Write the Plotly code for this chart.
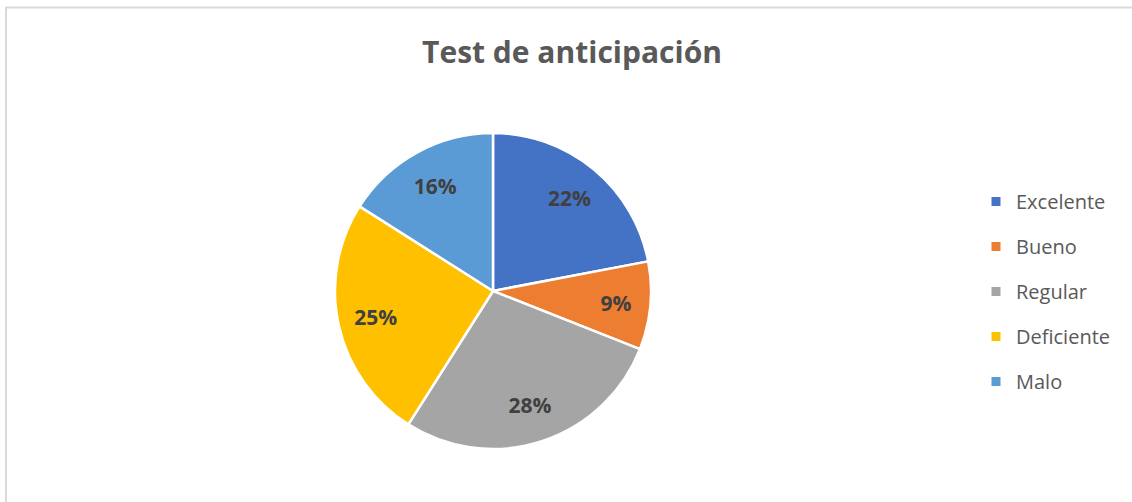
import plotly.graph_objects as go

categories = ["Excelente", "Bueno", "Regular", "Deficiente", "Malo"]
values = [22, 9, 28, 25, 16]
colors = ["#4472C4", "#ED7D31", "#A5A5A5", "#FFC000", "#5B9BD5"]
title_text = "Test de anticipación"

W, H = 1132, 502
cx, cy, r = 493, 291, 158
dom = dict(x=[(cx - r) / W, (cx + r) / W], y=[(H - cy - r) / H, (H - cy + r) / H])

fig = go.Figure()
# filled pie
fig.add_trace(go.Pie(
    labels=categories, values=values, sort=False, direction="clockwise",
    rotation=0, marker=dict(colors=colors, line=dict(color="white", width=2.5)),
    textinfo="none", showlegend=False, hoverinfo="label+percent", domain=dom,
))
# transparent ring carrying the percentage labels further out
fig.add_trace(go.Pie(
    labels=categories, values=values, sort=False, direction="clockwise",
    rotation=0, hole=0.52,
    marker=dict(colors=["rgba(0,0,0,0)"] * len(values), line=dict(width=0)),
    texttemplate="<b>%{percent:.0%}</b>",
    textposition="inside", insidetextorientation="horizontal",
    textfont=dict(family="Open Sans", size=21, color="#404040"),
    showlegend=False, hoverinfo="skip", domain=dom,
))

for cat, col in zip(categories, colors):
    fig.add_trace(go.Scatter(
        x=[None], y=[None], mode="markers", name=cat, legendgroup=cat,
        marker=dict(symbol="square", size=9, color=col), showlegend=True,
    ))

fig.update_layout(
    width=W, height=H, margin=dict(l=0, r=0, t=0, b=0),
    paper_bgcolor="white", plot_bgcolor="white",
    xaxis=dict(visible=False), yaxis=dict(visible=False),
    title=dict(text=f"<b>{title_text}</b>", x=572 / W, xanchor="center",
               y=1 - 52 / H, yanchor="middle",
               font=dict(family="Open Sans", size=30, color="#595959")),
    legend=dict(x=976 / W, xanchor="left", y=1 - 182 / H, yanchor="top",
                font=dict(family="Open Sans", size=20, color="#595959"),
                tracegroupgap=16, itemwidth=30, bgcolor="rgba(0,0,0,0)"),
    shapes=[
        dict(type="line", xref="paper", yref="paper", x0=5 / W, x1=1, y0=1 - 7.5 / H, y1=1 - 7.5 / H,
             line=dict(color="#D9D9D9", width=2)),
        dict(type="line", xref="paper", yref="paper", x0=6 / W, x1=6 / W, y0=0, y1=1 - 7 / H,
             line=dict(color="#D9D9D9", width=2)),
    ],
)

fig.write_html("out.html", config={"displayModeBar": False},
               post_script="document.body.style.margin='0';")
